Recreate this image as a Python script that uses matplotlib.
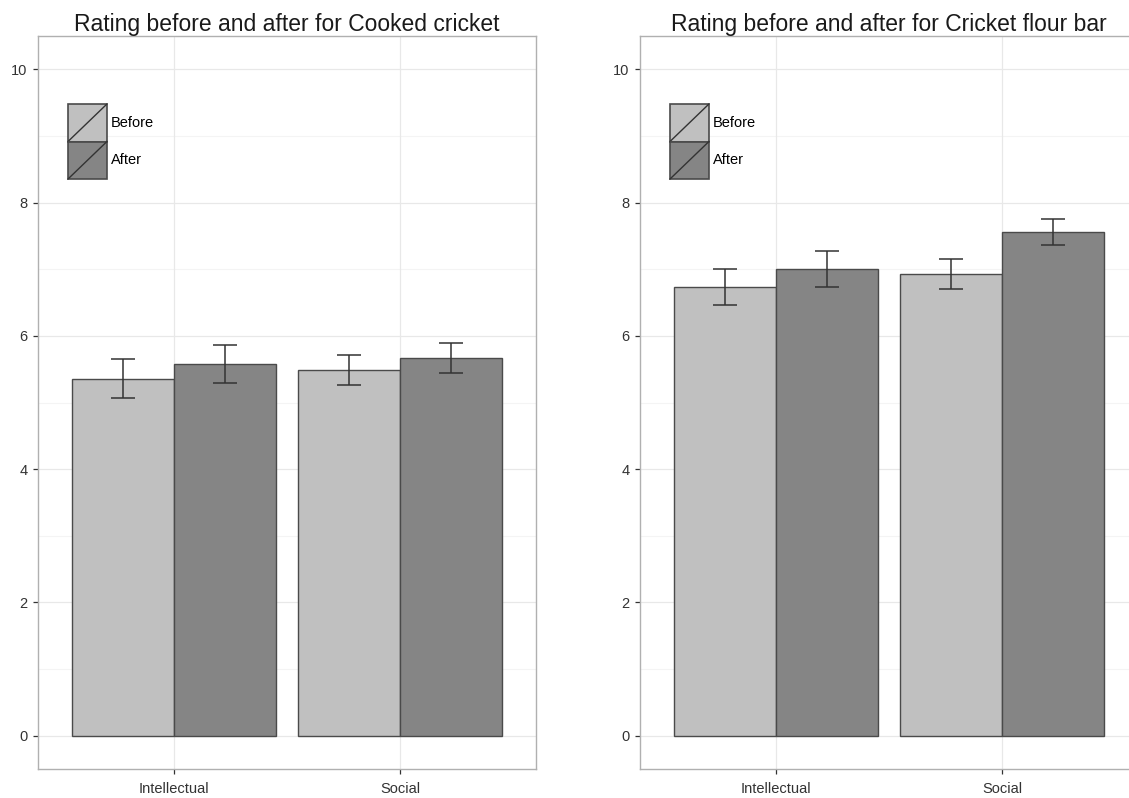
import numpy as np
import matplotlib
matplotlib.use('Agg')
import matplotlib.pyplot as plt
from matplotlib.patches import Rectangle
from matplotlib.lines import Line2D
from matplotlib.legend_handler import HandlerPatch

# data
categories = ['Intellectual', 'Social']
groups = ['Before', 'After']
titles = ['Rating before and after for Cooked cricket',
          'Rating before and after for Cricket flour bar']

cooked_mean = [[5.36, 5.49],   # Before
               [5.58, 5.67]]   # After
cooked_err = [[0.29, 0.23],
              [0.29, 0.23]]

flour_mean = [[6.74, 6.93],
              [7.00, 7.56]]
flour_err = [[0.27, 0.22],
             [0.27, 0.20]]

fills = ['#c0c0c0', '#858585']
EDGE = '#4a4a4a'
W, H = 1129, 798

plt.rcParams['font.family'] = ['Liberation Sans', 'DejaVu Sans']


class SlashHandler(HandlerPatch):
    # legend key: filled box with a diagonal line, like ggplot
    def create_artists(self, legend, orig, xd, yd, width, height, fontsize, trans):
        r = Rectangle((-xd, -yd), width, height, facecolor=orig.get_facecolor(),
                      edgecolor=EDGE, lw=1.2, transform=trans)
        l = Line2D([-xd, -xd + width], [-yd, -yd + height], color='#333333',
                   lw=1.0, transform=trans)
        return [r, l]


fig = plt.figure(figsize=(W / 100, H / 100), dpi=100)

panels = [(38, cooked_mean, cooked_err, titles[0]),
          (640, flour_mean, flour_err, titles[1])]

x = np.arange(1, len(categories) + 1)
bw = 0.45

for left, means, errs, title in panels:
    ax = fig.add_axes([left / W, 1 - 769 / H, 498 / W, (769 - 36) / H])
    ax.set_xlim(0.4, 2.6)
    ax.set_ylim(-0.5, 10.5)

    # grid
    for v in np.arange(1, 10, 2):
        ax.axhline(v, color='#f4f4f4', lw=0.8, zorder=0)
    for v in np.arange(0, 11, 2):
        ax.axhline(v, color='#e8e8e8', lw=0.9, zorder=0)
    for v in x:
        ax.axvline(v, color='#e8e8e8', lw=0.9, zorder=0)

    handles = []
    for i, g in enumerate(groups):
        pos = x + (i - 0.5) * bw
        b = ax.bar(pos, means[i], width=bw, color=fills[i], edgecolor=EDGE,
                   lw=1.0, label=g, zorder=2)
        handles.append(b[0])
        ax.errorbar(pos, means[i], yerr=errs[i], fmt='none', ecolor='#333333',
                    elinewidth=1.1, capsize=8.3, capthick=1.1, zorder=3)

    ax.set_xticks(x)
    ax.set_xticklabels(categories)
    ax.set_yticks(np.arange(0, 11, 2))
    ax.tick_params(length=3.5, width=0.9, color='#333333', labelcolor='#333333',
                   labelsize=10.5, pad=4)
    ax.tick_params(axis='x', pad=6)
    for s in ax.spines.values():
        s.set_color('#b0b0b0')
        s.set_linewidth(1.0)
    ax.set_title(title, fontsize=16.5, pad=2, color='#1a1a1a')

    ax.legend(handles=handles, labels=groups, loc='upper left',
              bbox_to_anchor=(30 / 498, (769 - 104) / 733), borderaxespad=0,
              borderpad=0, frameon=False, fontsize=10.5, handlelength=2.67,
              handleheight=3.58, labelspacing=0, handletextpad=0.27,
              handler_map={Rectangle: SlashHandler()})

fig.savefig('out.png', dpi=100)
